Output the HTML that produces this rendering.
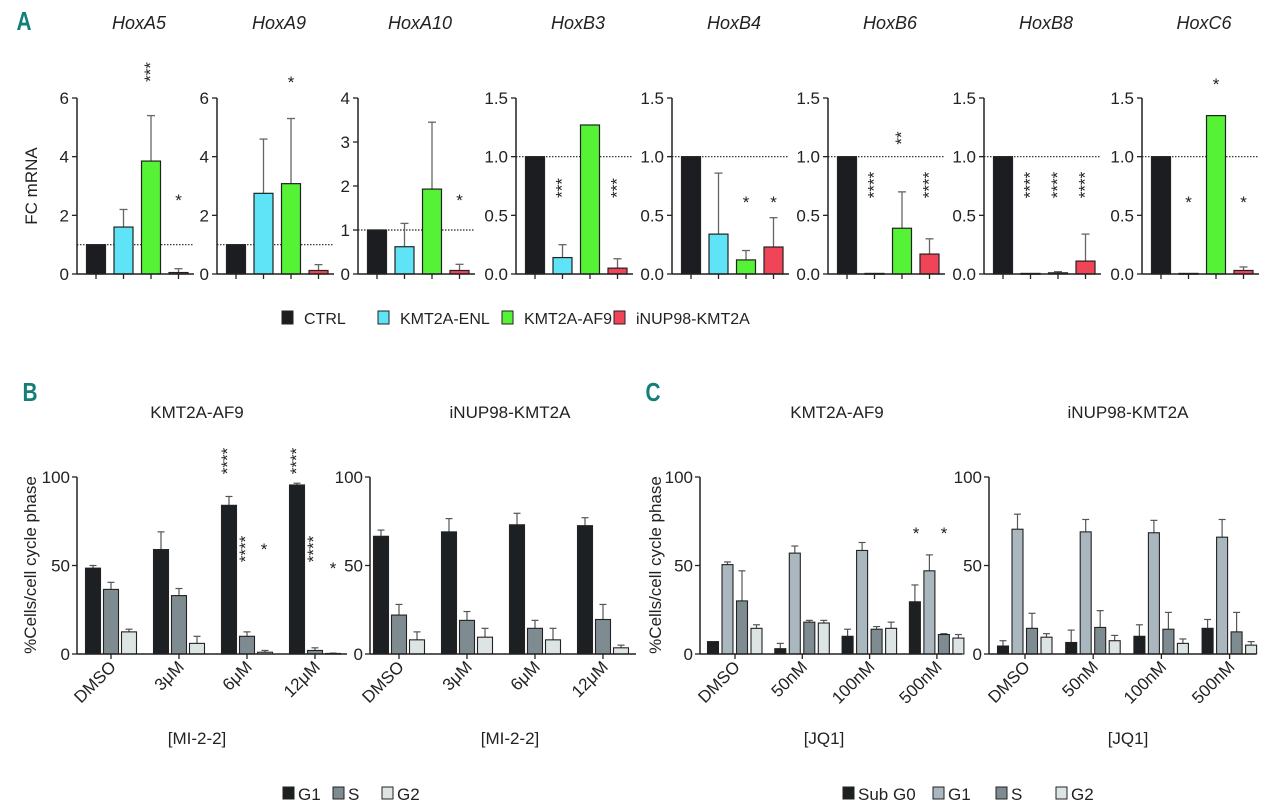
<!DOCTYPE html>
<html><head><meta charset="utf-8"><style>
html,body{margin:0;padding:0;background:#fff}
svg{display:block;font-family:"Liberation Sans",Arial,sans-serif}
</style></head><body>
<svg id="fig" width="1280" height="812" viewBox="0 0 1280 812" xmlns="http://www.w3.org/2000/svg"></svg>
<script>
// ---------- Panel A data ----------
const genes = ["HoxA5","HoxA9","HoxA10","HoxB3","HoxB4","HoxB6","HoxB8","HoxC6"];
const geneMax = [6,6,4,1.5,1.5,1.5,1.5,1.5];
const geneTicks = [["0","2","4","6"],["0","2","4","6"],["0","1","2","3","4"],["0.0","0.5","1.0","1.5"],["0.0","0.5","1.0","1.5"],["0.0","0.5","1.0","1.5"],["0.0","0.5","1.0","1.5"],["0.0","0.5","1.0","1.5"]];
const groupsA = ["CTRL","KMT2A-ENL","KMT2A-AF9","iNUP98-KMT2A"];
const valCTRL = [1,1,1,1,1,1,1,1];
const valENL  = [1.6,2.75,0.62,0.14,0.34,0.005,0.005,0.005];
const valAF9  = [3.85,3.08,1.93,1.27,0.12,0.39,0.01,1.35];
const valNUP  = [0.05,0.12,0.08,0.05,0.23,0.17,0.11,0.03];
const errENL  = [2.2,4.6,1.15,0.25,0.86,0,0,0];
const errAF9  = [5.4,5.3,3.45,0,0.2,0.7,0.02,0];
const errNUP  = [0.18,0.32,0.22,0.13,0.48,0.3,0.34,0.06];
const sigA = [ // [gene, bar, label, yPixel]
 [0,2,"***",72],[0,3,"*",198],[1,2,"*",80],[2,3,"*",198],
 [3,1,"***",188],[3,3,"***",188],[4,2,"*",200],[4,3,"*",200],
 [5,1,"****",185],[5,2,"**",138],[5,3,"****",185],
 [6,1,"****",185],[6,2,"****",185],[6,3,"****",185],
 [7,1,"*",200],[7,2,"*",82],[7,3,"*",200]];
// ---------- Panel B data ----------
const doseB = ["DMSO","3μM","6μM","12μM"];
const bAF9_G1 = [48.5,59,84,95.5], bAF9_G1e=[50,69,89,96.5];
const bAF9_S  = [36.5,33,10,2],   bAF9_Se =[40.5,37,12.5,3.5];
const bAF9_G2 = [12.5,6,1,0.3],   bAF9_G2e=[14,10,2,0.5];
const bNUP_G1 = [66.5,69,73,72.5],bNUP_G1e=[70,76.5,79.5,77];
const bNUP_S  = [22,19,14.5,19.5],bNUP_Se =[28,24,19,28];
const bNUP_G2 = [8,9.5,8,3.5],    bNUP_G2e=[12.5,14.5,14.5,5];
// ---------- Panel C data ----------
const doseC = ["DMSO","50nM","100nM","500nM"];
const cAF9_S0=[7,3,10,29.5], cAF9_S0e=[7,6,14,39];
const cAF9_G1=[50.5,57,58.5,47], cAF9_G1e=[52,61,63,56];
const cAF9_S=[30,18,14,11], cAF9_Se=[47,19,15.5,11.5];
const cAF9_G2=[14.5,17.5,14.5,9], cAF9_G2e=[16.5,19,18,11];
const cNUP_S0=[4.5,6.5,10,14.5], cNUP_S0e=[7.5,13.5,16.5,19.5];
const cNUP_G1=[70.5,69,68.5,66], cNUP_G1e=[79,76,75.5,76];
const cNUP_S=[14.5,15,14,12.5], cNUP_Se=[23,24.5,23.5,23.5];
const cNUP_G2=[9.5,7.5,6,5], cNUP_G2e=[11.5,10.5,8.5,7];

const NS="http://www.w3.org/2000/svg";
const svg=document.getElementById("fig");
function el(tag,attrs,parent,text){const e=document.createElementNS(NS,tag);for(const k in attrs)e.setAttribute(k,attrs[k]);if(text!==undefined)e.textContent=text;(parent||svg).appendChild(e);return e;}
function txt(x,y,s,size,parent,extra){const t=el("text",Object.assign({x:x,y:y,"font-size":size,fill:"#222","text-anchor":"middle"},extra||{}),parent,s);return t;}

// ---------- Panel A ----------
const aLabel=txt(24,30,"A",26,svg,{"font-weight":"bold",fill:"#127f7a",transform:"translate(24,0) scale(0.8,1) translate(-24,0)"});

const axisX=[77,217,358,516,672,828,984,1142];
const yTopA=98,y0A=274,plotW=117;
const colA=["#1b1d20","#5fe3f7","#55f236","#f04558"];
const valsA=[valCTRL,valENL,valAF9,valNUP], errsA=[null,errENL,errAF9,errNUP];
const ylab=txt(0,0,"FC mRNA",17,svg,{transform:"translate(37,186) rotate(-90)"});

genes.forEach((g,i)=>{
  const G=el("g",{});
  
  
  const ax=axisX[i], mx=geneMax[i];
  const ys=v=>y0A-(v/mx)*(y0A-yTopA);
  const t=txt(ax+62,29,g,18,G,{"font-style":"italic"});
  
  el("line",{x1:ax,x2:ax+plotW,y1:ys(1),y2:ys(1),stroke:"#222","stroke-width":1.2,"stroke-dasharray":"1.5,1.5"},G);
  for(let k=0;k<4;k++){
    const cx=ax+19+k*27.5, v=valsA[k][i], y=ys(v);
    if(errsA[k]&&errsA[k][i]>v){const ye=ys(errsA[k][i]);
      el("line",{x1:cx,x2:cx,y1:ye,y2:y,stroke:"#666","stroke-width":1.3},G);
      el("line",{x1:cx-4,x2:cx+4,y1:ye,y2:ye,stroke:"#666","stroke-width":1.3},G);}
    const r=el("rect",{x:cx-9.5,y:y,width:19,height:Math.max(y0A-y,0.8),fill:colA[k],stroke:"#222","stroke-width":1.2},G);
    
    
    el("line",{x1:cx,x2:cx,y1:y0A,y2:y0A+5,stroke:"#222","stroke-width":1.3},G);
  }
  el("line",{x1:ax,x2:ax,y1:yTopA,y2:y0A,stroke:"#222","stroke-width":1.5},G);
  el("line",{x1:ax,x2:ax+plotW,y1:y0A,y2:y0A,stroke:"#222","stroke-width":1.5},G);
  const tk=geneTicks[i];
  tk.forEach((s,j)=>{const v=j*mx/(tk.length-1),y=ys(v);
    el("line",{x1:ax-5,x2:ax,y1:y,y2:y,stroke:"#222","stroke-width":1.3},G);
    txt(ax-8,y+6,s,17,G,{"text-anchor":"end"});});
  sigA.filter(s=>s[0]===i).forEach(s=>{
    const cx=ax+19+s[1]*27.5;
    let st;
    if(s[2].length>1) st=txt(0,0,s[2],17,G,{transform:`translate(${cx+5},${s[3]}) rotate(-90)`});
    else st=txt(cx,s[3]+8,s[2],17,G);
    
  });
});
const legA=el("g",{});
[[282,"CTRL"],[378,"KMT2A-ENL"],[502,"KMT2A-AF9"],[614,"iNUP98-KMT2A"]].forEach((p,k)=>{
  const le=el("g",{},legA);
  el("rect",{x:p[0],y:311,width:11,height:13,fill:colA[k],stroke:"#222","stroke-width":1},le);
  txt(p[0]+22,324,p[1],16,le,{"text-anchor":"start"});
});

const y100=477,y0B=654;
const ysB=v=>y0B-(v/100)*(y0B-y100);
function cyclePanel(name,ax,xEnd,first,step,gstep,bw,series,errs,cols,cats,tickOff,stars){
  const G=el("g",{});
  cats.forEach((c,gi)=>{
    series.forEach((ser,si)=>{
      const cx=first+gi*gstep+si*step,v=ser[gi],y=ysB(v),e=errs[si][gi];
      if(e>v){const ye=ysB(e);
        el("line",{x1:cx,x2:cx,y1:ye,y2:y,stroke:"#555","stroke-width":1.2},G);
        el("line",{x1:cx-3.5,x2:cx+3.5,y1:ye,y2:ye,stroke:"#555","stroke-width":1.2},G);}
      const r=el("rect",{x:cx-bw/2,y:y,width:bw,height:Math.max(y0B-y,0.6),fill:cols[si],stroke:"#222","stroke-width":1.1},G);
      
      
    });
    const tx=first+gi*gstep+tickOff;
    el("line",{x1:tx,x2:tx,y1:y0B,y2:y0B+5,stroke:"#222","stroke-width":1.3},G);
    txt(0,0,c,17,G,{"text-anchor":"end",transform:`translate(${tx+6},${y0B+14}) rotate(-45)`});
  });
  el("line",{x1:ax,x2:ax,y1:y100,y2:y0B,stroke:"#222","stroke-width":1.5},G);
  el("line",{x1:ax,x2:xEnd,y1:y0B,y2:y0B,stroke:"#222","stroke-width":1.5},G);
  [0,50,100].forEach(v=>{const y=ysB(v);
    el("line",{x1:ax-5,x2:ax,y1:y,y2:y,stroke:"#222","stroke-width":1.3},G);
    txt(ax-7,y+6,String(v),17,G,{"text-anchor":"end"});});
  (stars||[]).forEach(s=>{let st;
    if(s[1].length>1) st=txt(0,0,s[1],17,G,{transform:`translate(${s[0]+5},${s[2]}) rotate(-90)`});
    else st=txt(s[0],s[2]+8,s[1],17,G);
    });
  return G;
}
const cDark="#1d2023",cMid="#7e8b91",cLight="#dde4e4",cBlue="#aab7be";
const bl=txt(30,401,"B",26,svg,{"font-weight":"bold",fill:"#127f7a",transform:"translate(30,0) scale(0.8,1) translate(-30,0)"});
cyclePanel("chart-b-kmt2a-af9",77,347,93,18,68,15,[bAF9_G1,bAF9_S,bAF9_G2],[bAF9_G1e,bAF9_Se,bAF9_G2e],[cDark,cMid,cLight],doseB,18,
  [[228,"****",461],[246,"****",549],[264,"*",547],[297,"****",461],[314,"****",549]]);
cyclePanel("chart-b-inup98-kmt2a",370,636,381,18,68,15,[bNUP_G1,bNUP_S,bNUP_G2],[bNUP_G1e,bNUP_Se,bNUP_G2e],[cDark,cMid,cLight],doseB,18,
  [[333,"*",566]]);
[[197,"KMT2A-AF9"],[510,"iNUP98-KMT2A"],[197,"[MI-2-2]"],[510,"[MI-2-2]"]].forEach((p,i)=>{
  const t=txt(p[0],i<2?418:744,p[1],17);});
let yb=txt(0,0,"%Cells/cell cycle phase",17,svg,{transform:"translate(36,565) rotate(-90)"});

const legB=el("g",{});
[[283,"G1",cDark],[333,"S",cMid],[382,"G2",cLight]].forEach(p=>{
  const le=el("g",{},legB);
  el("rect",{x:p[0],y:787,width:11,height:12,fill:p[2],stroke:"#222","stroke-width":1},le);
  txt(p[0]+15,800,p[1],17,le,{"text-anchor":"start"});});
const cl=txt(653,401,"C",26,svg,{"font-weight":"bold",fill:"#127f7a",transform:"translate(653,0) scale(0.8,1) translate(-653,0)"});
cyclePanel("chart-c-kmt2a-af9",700,962,713,14.5,67.3,11,[cAF9_S0,cAF9_G1,cAF9_S,cAF9_G2],[cAF9_S0e,cAF9_G1e,cAF9_Se,cAF9_G2e],[cDark,cBlue,cMid,cLight],doseC,22,
  [[916,"*",531],[944,"*",531]]);
cyclePanel("chart-c-inup98-kmt2a",989,1256,1003,14.5,68.2,11,[cNUP_S0,cNUP_G1,cNUP_S,cNUP_G2],[cNUP_S0e,cNUP_G1e,cNUP_Se,cNUP_G2e],[cDark,cBlue,cMid,cLight],doseC,22,[]);
[[837,"KMT2A-AF9"],[1128,"iNUP98-KMT2A"],[824,"[JQ1]"],[1128,"[JQ1]"]].forEach((p,i)=>{
  const t=txt(p[0],i<2?418:744,p[1],17);});
let yc=txt(0,0,"%Cells/cell cycle phase",17,svg,{transform:"translate(661,565) rotate(-90)"});

const legC=el("g",{});
[[843,"Sub G0",cDark],[933,"G1",cBlue],[996,"S",cMid],[1056,"G2",cLight]].forEach(p=>{
  const le=el("g",{},legC);
  el("rect",{x:p[0],y:787,width:11,height:12,fill:p[2],stroke:"#222","stroke-width":1},le);
  txt(p[0]+15,800,p[1],17,le,{"text-anchor":"start"});});
</script>
</body></html>
